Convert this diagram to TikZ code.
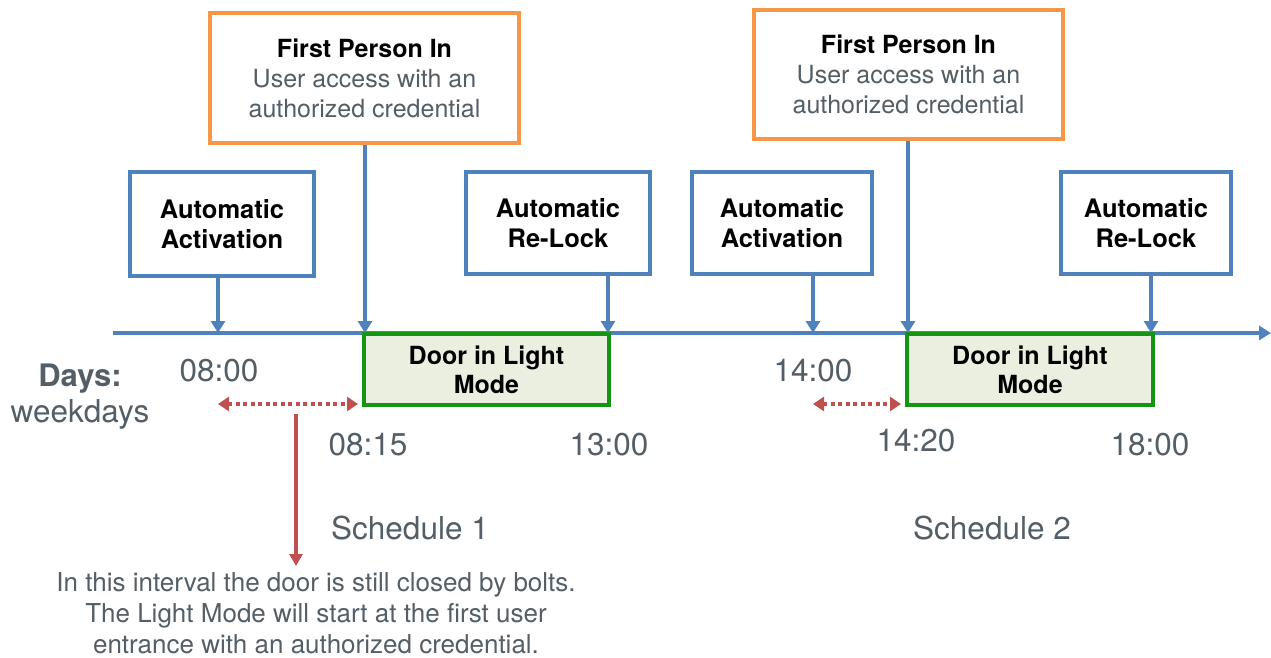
\documentclass[tikz,border=0pt]{standalone}
\usepackage{fontspec}
\setmainfont{TeX Gyre Heros}
\usetikzlibrary{arrows.meta,shadows}
\definecolor{lineblue}{RGB}{79,129,189}
\definecolor{boxorange}{RGB}{247,150,70}
\definecolor{boxgreen}{RGB}{20,150,20}
\definecolor{greenfill}{RGB}{235,239,224}
\definecolor{arrowred}{RGB}{192,80,77}
\definecolor{txtgray}{RGB}{83,94,102}
\tikzset{
  boxshadow/.style={drop shadow={opacity=0.25,shadow xshift=2pt,shadow yshift=-2pt}},
  autobox/.style={draw=lineblue,line width=3.2pt,fill=white,boxshadow,align=center,
    font=\fontsize{25.5}{29.5}\selectfont\bfseries,text=black,inner sep=0pt},
  fpibox/.style={draw=boxorange,line width=4pt,fill=white,boxshadow,align=center,
    text=txtgray,font=\fontsize{25}{30}\selectfont,inner sep=0pt},
  doorbox/.style={draw=boxgreen,line width=3.6pt,fill=greenfill,boxshadow,
    inner sep=0pt},
  doortext/.style={align=center,font=\fontsize{25}{29}\selectfont\bfseries,text=black},
  timelbl/.style={text=txtgray,font=\fontsize{31.5}{36}\selectfont},
  bluearrow/.style={draw=lineblue,line width=3.2pt,-{Triangle[length=12pt,width=14pt]}},
  dotarrow/.style={draw=arrowred,line width=3.8pt,dash pattern=on 4pt off 3.5pt,
    {Triangle[length=11pt,width=14pt]}-{Triangle[length=11pt,width=14pt]}},
  redarrow/.style={draw=arrowred,line width=3.2pt,-{Triangle[length=12pt,width=13pt]}},
}
\begin{document}
\begin{tikzpicture}[x=1pt,y=-1pt]
\useasboundingbox (0,0) rectangle (1271,657);
% timeline
\coordinate (tls) at (113,333);
\coordinate (tle) at (1271,333);
\draw[bluearrow] (tls) -- (tle);
% boxes
\node[autobox,minimum width=184pt,minimum height=104pt] (aa1) at (222,224) {Automatic\\Activation};
\node[fpibox,minimum width=309pt,minimum height=130pt] (fpi1) at (364.5,78) {\textcolor{black}{\bfseries First Person In}\\User access with an\\authorized credential};
\node[autobox,minimum width=184pt,minimum height=102pt] (rl1) at (558,223) {Automatic\\Re-Lock};
\node[autobox,minimum width=180pt,minimum height=102pt] (aa2) at (782,223) {Automatic\\Activation};
\node[fpibox,minimum width=309pt,minimum height=129pt] (fpi2) at (908.5,74.5) {\textcolor{black}{\bfseries First Person In}\\User access with an\\authorized credential};
\node[autobox,minimum width=170pt,minimum height=102pt] (rl2) at (1146,223) {Automatic\\Re-Lock};
\node[doorbox,minimum width=245pt,minimum height=71pt] (dlm1) at (486.5,369.5) {};
\node[doortext] (dlm1t) at (486.5,370) {Door in Light\\Mode};
\node[doorbox,minimum width=246pt,minimum height=71pt] (dlm2) at (1030,369.5) {};
\node[doortext] (dlm2t) at (1030,370) {Door in Light\\Mode};
% ticks on the timeline
\coordinate (t1) at (218,333);
\coordinate (t2) at (365,333);
\coordinate (t3) at (608,333);
\coordinate (t4) at (813,333);
\coordinate (t5) at (908,333);
\coordinate (t6) at (1151,333);
\draw[bluearrow] (aa1.south -| t1) -- (t1);
\draw[bluearrow] (fpi1.south -| t2) -- (t2);
\draw[bluearrow] (rl1.south -| t3) -- (t3);
\draw[bluearrow] (aa2.south -| t4) -- (t4);
\draw[bluearrow] (fpi2.south -| t5) -- (t5);
\draw[bluearrow] (rl2.south -| t6) -- (t6);
% time labels
\node[timelbl] (l0800) at (219,371) {08:00};
\node[timelbl] (l0815) at (368,445) {08:15};
\node[timelbl] (l1300) at (609,445) {13:00};
\node[timelbl] (l1400) at (813,371) {14:00};
\node[timelbl] (l1420) at (916,441) {14:20};
\node[timelbl] (l1800) at (1150,445) {18:00};
\node[text=txtgray,font=\fontsize{31}{36}\selectfont\bfseries] (days) at (80,379) {Days:};
\node[text=txtgray,font=\fontsize{31.5}{36}\selectfont] (wd) at (80,414) {weekdays};
% interval arrows
\coordinate (d1a) at (218,404);
\coordinate (d1b) at (358,404);
\coordinate (d2a) at (813,404);
\coordinate (d2b) at (901,404);
\draw[dotarrow] (d1a) -- (d1b);
\draw[dotarrow] (d2a) -- (d2b);
% note
\coordinate (na) at (296,414);
\node[text=txtgray,align=center,font=\fontsize{26}{31}\selectfont] (note) at (316,613)
  {In this interval the door is still closed by bolts.\\The Light Mode will start at the first user\\entrance with an authorized credential.};
\draw[redarrow] (na) -- (296,566) coordinate (nb);
% schedules
\node[timelbl] (s1) at (410,528) {Schedule 1};
\node[timelbl] (s2) at (992,528) {Schedule 2};
\end{tikzpicture}
\end{document}
